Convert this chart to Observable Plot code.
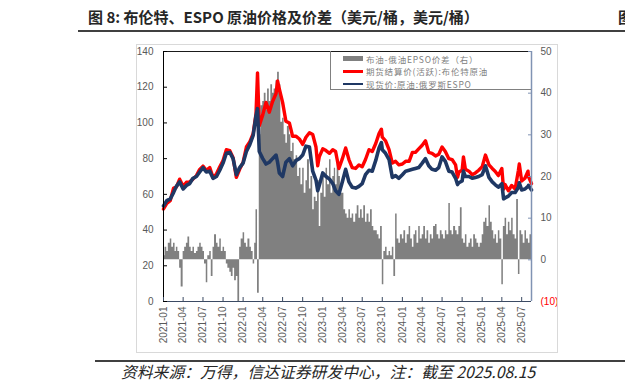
<!DOCTYPE html>
<html>
<head>
<meta charset="utf-8">
<script src="https://cdn.jsdelivr.net/npm/d3@7"></script>
<script src="https://cdn.jsdelivr.net/npm/@observablehq/plot@0.6"></script>
<style>
  body { margin: 0; width: 625px; height: 391px; position: relative; overflow: hidden; background: #fff; }
  .abs { position: absolute; }
  #title { left: 88px; top: 8px; font: bold 15px "Noto Sans CJK SC", sans-serif; color: #262626; white-space: nowrap; line-height: 18px; }
  #title2 { left: 618px; top: 8px; font: bold 15px "Noto Sans CJK SC", sans-serif; color: #262626; white-space: nowrap; line-height: 18px; }
  #tline { left: 78px; top: 30px; width: 547px; height: 2px; background: #404040; }
  #frame { left: 136px; top: 44px; width: 420px; height: 307px; border: 1px solid #d9d9d9; }
  #chart { left: 0; top: 36px; }
  #legend { left: 330px; top: 51px; width: 200px; height: 38px; border-left: 1px solid #808080; border-bottom: 1px solid #808080; font: 8.5px "Noto Sans CJK SC", sans-serif; letter-spacing: 0.8px; color: #808080; }
  .li { position: absolute; left: 35px; white-space: nowrap; line-height: 12px; }
  .sw { position: absolute; left: 12px; width: 20px; }
  #fline { left: 95px; top: 360px; width: 530px; height: 2px; background: #404040; }
  #foot { left: 121px; top: 363px; font: italic 15.8px "Noto Sans CJK SC", sans-serif; color: #262626; white-space: nowrap; line-height: 18px; }
</style>
</head>
<body>
<div id="title" class="abs">图 8: 布伦特、ESPO 原油价格及价差（美元/桶，美元/桶）</div>
<div id="title2" class="abs">图</div>
<div id="tline" class="abs"></div>
<div id="chart" class="abs"></div>
<div id="frame" class="abs"></div>
<div id="legend" class="abs"></div>
<div id="fline" class="abs"></div>
<div id="foot" class="abs">资料来源：万得，信达证券研发中心，注：截至 2025.08.15</div>
<script>
// ---------------- data ----------------
const seriesNames = ["布油-俄油EPSO价差（右）", "期货结算价(活跃):布伦特原油", "现货价:原油:俄罗斯ESPO"];
const seriesColors = ["#808080", "#ff0000", "#1f3864"];

const xTickLabels = ["2021-01","2021-04","2021-07","2021-10","2022-01","2022-04","2022-07","2022-10",
  "2023-01","2023-04","2023-07","2023-10","2024-01","2024-04","2024-07","2024-10","2025-01","2025-04","2025-07"];
const leftTicks = [0, 20, 40, 60, 80, 100, 120, 140];
const rightTicks = [50, 40, 30, 20, 10, 0];
const rightNegTick = -10;

const lineDates = [
  "2021-01-01","2021-01-16","2021-02-01","2021-02-16","2021-03-01","2021-03-16","2021-04-01","2021-04-16",
  "2021-05-01","2021-05-16","2021-06-01","2021-06-16","2021-07-01","2021-07-16","2021-08-01","2021-08-16",
  "2021-09-01","2021-09-16","2021-10-01","2021-10-16","2021-11-01","2021-11-16","2021-12-01","2021-12-16",
  "2022-01-01","2022-01-16","2022-02-01","2022-02-16","2022-03-01","2022-03-08","2022-03-16","2022-04-01",
  "2022-04-16","2022-05-01","2022-05-16","2022-06-01","2022-06-08","2022-06-16","2022-07-01","2022-07-16",
  "2022-08-01","2022-08-16","2022-09-01","2022-09-16","2022-10-01","2022-10-16","2022-11-01","2022-11-16",
  "2022-12-01","2022-12-09","2022-12-16",
  "2023-01-01","2023-01-16","2023-02-01","2023-02-16","2023-03-01","2023-03-16","2023-04-01","2023-04-16",
  "2023-05-01","2023-05-16","2023-06-01","2023-06-16","2023-07-01","2023-07-16","2023-08-01","2023-08-16",
  "2023-09-01","2023-09-16","2023-09-27","2023-10-01","2023-10-16","2023-11-01","2023-11-16","2023-12-01","2023-12-16",
  "2024-01-01","2024-01-16","2024-02-01","2024-02-16","2024-03-01","2024-03-16","2024-04-01","2024-04-16",
  "2024-05-01","2024-05-16","2024-06-01","2024-06-16","2024-07-01","2024-07-16","2024-08-01","2024-08-16",
  "2024-09-01","2024-09-10","2024-09-16","2024-10-01","2024-10-07","2024-10-16","2024-11-01","2024-11-16",
  "2024-12-01","2024-12-16",
  "2025-01-01","2025-01-16","2025-02-01","2025-02-16","2025-03-01","2025-03-16","2025-04-01","2025-04-09",
  "2025-04-16","2025-05-01","2025-05-16","2025-06-01","2025-06-16","2025-06-20","2025-07-01","2025-07-16",
  "2025-07-30","2025-08-01","2025-08-15"
];
const brentPrice = [
  51.8,55.0,56.5,63.5,64.0,68.5,64.5,66.8,67.0,68.5,70.5,74.0,75.8,73.5,75.0,69.5,71.5,75.5,79.0,85.0,84.5,80.5,69.5,74.0,
  78.0,86.5,89.5,94.0,105.0,128.0,98.5,104.5,111.5,106.0,112.0,116.5,123.5,119.0,111.5,101.0,100.0,92.5,92.5,91.0,88.0,92.0,94.5,93.5,86.5,76.0,81.0,
  85.5,84.5,83.0,85.0,84.0,74.5,80.0,86.0,79.5,75.0,74.5,76.5,75.5,79.5,85.0,84.0,88.5,94.0,96.5,92.0,90.0,85.0,77.5,78.5,76.5,
  77.0,78.5,78.5,83.5,83.5,85.5,87.5,90.0,83.5,83.0,81.5,82.5,86.5,84.0,80.0,79.5,76.5,69.5,72.5,73.5,81.0,74.0,73.0,71.0,72.0,73.5,
  75.5,82.0,76.5,74.5,73.0,70.5,74.5,62.8,65.5,62.0,65.0,63.0,73.5,77.0,67.5,69.0,73.0,70.0,66.0
];
const espoPrice = [
  53.5,56.5,57.5,61.0,64.5,67.0,63.0,65.0,66.0,69.0,70.0,72.5,75.0,72.5,73.0,69.0,70.0,73.5,77.5,83.0,83.5,80.0,71.0,75.0,
  77.5,84.0,88.0,93.0,104.0,108.0,84.0,80.0,77.0,78.0,80.0,82.0,78.0,72.0,70.0,78.0,80.0,76.0,79.0,80.0,82.0,87.0,86.5,73.0,68.0,62.0,65.0,
  72.0,70.0,68.5,66.0,62.0,60.0,67.0,74.0,67.0,64.0,63.5,64.5,66.0,71.0,73.5,73.0,79.0,86.0,89.0,85.0,83.0,79.5,69.5,70.5,69.0,
  71.0,73.0,73.5,74.0,74.5,75.0,77.5,80.0,76.0,74.0,73.5,75.0,81.0,78.5,73.0,72.5,69.0,65.5,66.5,67.5,73.0,70.0,70.0,69.0,69.5,70.0,
  71.0,76.0,69.5,67.0,65.5,64.0,66.0,57.5,58.0,59.0,61.0,61.0,64.0,66.5,62.5,63.0,64.5,65.0,62.5
];

// spread (right axis), four readings per month (around the 1st, 8th, 16th, 23rd)
const spreadDays = [1, 8, 16, 23];
const spread2021 = [1,3,2,4, 5,3,4,2, 3,2,-2,-6.5, 2,3,4,5.5, 3,2,3,1.5, 2,3,4,3,
  2,-1,-5.5,1, 2,-4,3,6, 4,3,5,2, 3,2,-1,-2, -3,-4,-2,-5, -4,-10,3,5];
const spread2022 = [6.5,4,3,5, 3,2,-1,4, 12,-8,30,37, 38,40,36,41, 38,42,40,41, 43,45,42,33,
  34,30,28,32, 30,26,28,24, 25,20,22,18, 22,16,19,24, 17,20,12,15, 14,19,8,16];
const spread2023 = [20,15,22,18, 24,16,20,22, 18,24,20,16, 16,12,11,10, 12,10,11,9, 11,13,10,12,
  10,13,9,11, 9,12,8,7, 7,6,5,8, -6,2,3,1, 2,1,3,-4, 11,5,4,6];
const spread2024 = [5,7,4,6, 8,5,3,6, 7,4,8,5, 6,8,5,7, 4,6,5,8, 8.5,6,5,7,
  6,5,7,6, 13.5,7,6,8, 7,6,8,12.5, 5,4,6,3, 4,5,3,6, 5,4,3,4];
const spread2025 = [6,9,10,8, 13,9,7,5, 6,4,7,5, -6,8,10,6, 9,7,10,6, 5,14.5,-3.5,7, 6,4,7,5, 4,6];

// ---------------- build tables ----------------
const parse = d3.utcParse("%Y-%m-%d");
const lines = lineDates.map((d, i) => ({date: parse(d), brent: brentPrice[i], espo: espoPrice[i]}));
const spread = [];
[[2021, spread2021], [2022, spread2022], [2023, spread2023], [2024, spread2024], [2025, spread2025]].forEach(([yr, arr]) => {
  arr.forEach((v, i) => {
    const m = Math.floor(i / 4), day = spreadDays[i % 4];
    spread.push({date: new Date(Date.UTC(yr, m, day)), v});
  });
});
const x0 = parse("2021-01-01"), x1 = parse("2025-08-15");
spread.push({date: x1, v: spread[spread.length - 1].v});
// right axis (-10..50) mapped onto left axis (0..140)
const toLeft = s => (s + 10) * 140 / 60;
const xTicks = xTickLabels.map(s => parse(s + "-01"));

const chart = Plot.plot({
  width: 625, height: 320,
  marginLeft: 163, marginRight: 94, marginTop: 15, marginBottom: 55,
  x: {type: "utc", domain: [x0, x1]},
  y: {domain: [0, 140]},
  style: {background: "transparent", fontFamily: "'Liberation Sans', Arial, sans-serif", fontSize: "10px", color: "#595959", overflow: "visible"},
  marks: [
    Plot.areaY(spread, {x: "date", y1: toLeft(0), y2: d => toLeft(d.v), fill: seriesColors[0], curve: "step-after"}),
    Plot.line(lines, {x: "date", y: "brent", stroke: seriesColors[1], strokeWidth: 3.4, strokeLinejoin: "round"}),
    Plot.line(lines, {x: "date", y: "espo", stroke: seriesColors[2], strokeWidth: 3.6, strokeLinejoin: "round"}),
    Plot.ruleY([140], {stroke: "#1a1a1a"}),
    Plot.ruleY([0], {stroke: "#3b4a63"}),
    Plot.ruleX([x0], {stroke: "#000"}),
    Plot.ruleX([x1], {stroke: "#8093b3", strokeWidth: 1.5}),
    Plot.axisY(leftTicks, {anchor: "left", tickSize: -4, tickPadding: 14, stroke: "#000", fill: "#595959"}),
    Plot.axisY(rightTicks.map(toLeft), {anchor: "right", tickSize: -4, tickPadding: 13, stroke: "#8093b3", fill: "#595959",
      tickFormat: d => String(Math.round(d * 60 / 140 - 10))}),
    Plot.axisY([toLeft(rightNegTick)], {anchor: "right", tickSize: 0, tickPadding: 9, fill: "#ff0000",
      tickFormat: d => "(" + Math.abs(Math.round(d * 60 / 140 - 10)) + ")"}),
    Plot.axisX(xTicks, {anchor: "bottom", tickSize: -4, tickPadding: 9, tickRotate: -90, stroke: "#3b4a63", fill: "#595959",
      tickFormat: d3.utcFormat("%Y-%m")})
  ]
});
document.getElementById("chart").appendChild(chart);

// legend
const legend = document.getElementById("legend");
const rows = [2, 14.3, 26.6];
seriesNames.forEach((name, i) => {
  const sw = document.createElement("div");
  sw.className = "sw";
  sw.style.background = seriesColors[i];
  if (i === 0) { sw.style.top = (rows[i] + 3) + "px"; sw.style.height = "5px"; }
  else { sw.style.top = (rows[i] + 5) + "px"; sw.style.height = "2.5px"; }
  legend.appendChild(sw);
  const t = document.createElement("div");
  t.className = "li";
  t.style.top = rows[i] + "px";
  t.textContent = name;
  legend.appendChild(t);
});
</script>
</body>
</html>
